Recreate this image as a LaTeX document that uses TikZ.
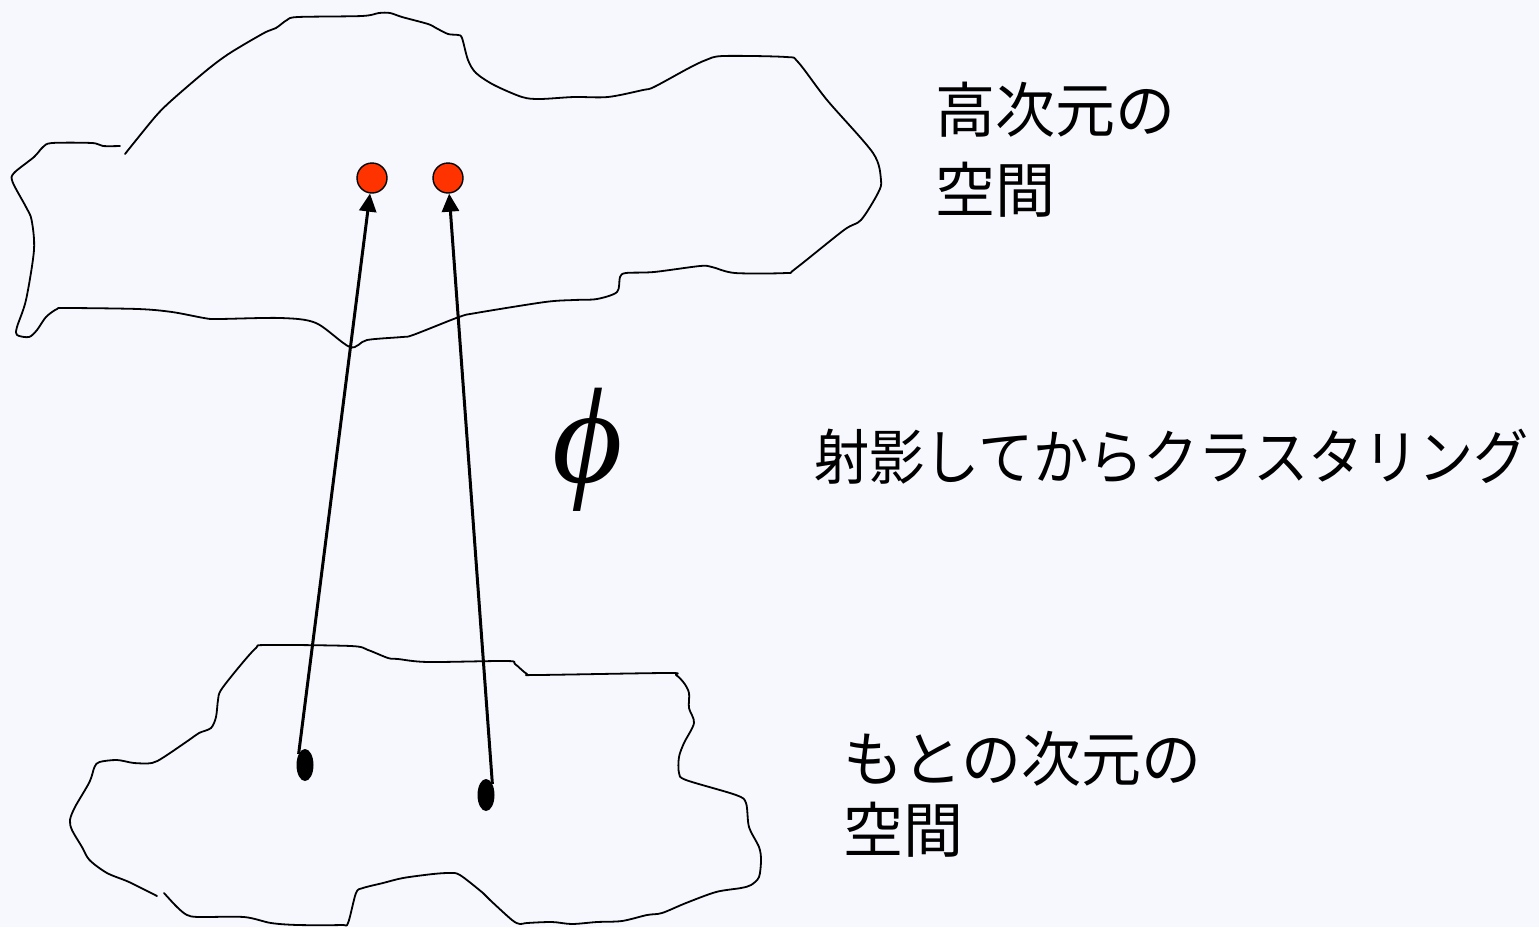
\documentclass[tikz,border=0pt]{standalone}
\usepackage{fontspec}
\usepackage{graphicx}
\newfontfamily\jpfont{Noto Sans CJK JP}
\newfontfamily\phifont{Liberation Serif}
\usetikzlibrary{arrows.meta,shapes.geometric}
\definecolor{bgcol}{RGB}{247,248,254}
\definecolor{dotred}{RGB}{255,51,0}
\tikzset{
  outline/.style={line width=1.8pt, line join=round, line cap=round},
  reddot/.style={circle, draw=black, line width=1.4pt, fill=dotred, minimum size=30pt, inner sep=0pt},
  blackdot/.style={ellipse, fill=black, minimum width=17pt, minimum height=32pt, inner sep=0pt},
  maparrow/.style={line width=3pt, -{Triangle[length=18pt,width=17pt]}},
  jplabel/.style={anchor=base west, inner sep=0pt, font=\jpfont\fontsize{60}{70}\selectfont}
}
\begin{document}
\begin{tikzpicture}[x=1pt,y=-1pt]
\fill[bgcol] (0,0) rectangle (1539,927);
\useasboundingbox (0,0) rectangle (1539,927);

% upper blob (high-dimensional space)
\draw[outline] plot[smooth, tension=0.5] coordinates {
(120,146) (103,146) (92,143) (52,143) (43,147) (34,157) (14,173) (12.6,182) (26,207) (31.6,220) (34,250) (26,300) (17,327) (17,335) (29,337) (37,330) (46,317) (57,309) (66,308) (138,309) (172,312) (204,318) (218,319) (281,318) (316,323) (350,347) (367,340) (402,337) (413,335) (459,317) (476,313) (545,302) (574,300) (597,299) (617,292) (620,277) (626,273) (654,272) (700,266) (712,267) (735,273) (786,273) (795,269) (844,230) (861,220) (878,193) (881,180) (873,153) (827,100) (798,62) (786,57) (723,56) (706,60) (689,68) (654,87) (643,90) (608,97) (574,97) (540,99) (522,97) (494,85) (476,73) (468,60) (462,38) (458,35) (448,34) (436,28) (428,24) (402,17) (390,13) (379,13) (362,16) (298,17) (287,20) (276,28) (264,33) (230,53) (207,70) (172,100) (155,117) (125,154)};

% lower blob (original space)
\draw[outline] plot[smooth, tension=0.5] coordinates {
(157,896) (129,882) (107,873) (89.5,860) (82,847) (72,830) (70,820) (75,807) (89.5,782) (94.5,767) (99.5,762) (117,760) (134,763) (152,763) (164,757) (189,740) (199,733) (211,728) (216,717) (218,700) (221,690) (239,667) (256,648) (266,645) (351,646) (368,650) (388,658) (398,659) (428,662) (507,661) (515,664) (527,674) (537,675) (667,673) (676,675) (684,683) (689,693) (689,708) (694,723) (684,743) (679,757) (679,773) (686,780) (736,795) (746,803) (749,827) (759,847) (761,860) (759,877) (751,885) (741,888) (716,892) (686,903) (662,913) (647,915) (622,921) (597,922) (572,924) (552,922) (527,923) (520,924) (512,920) (490,900) (483,893) (460,875) (450,873) (433,874) (403,878) (383,883) (363,888) (356,893) (348,923) (341,925) (298,925) (271,923) (244,917) (199,917) (187,915) (177,907) (164,893)};

% points
\node[reddot] (r1) at (372,178) {};
\node[reddot] (r2) at (448,178) {};
\node[blackdot] (b1) at (305,765) {};
\node[blackdot] (b2) at (486,795) {};

% mapping arrows
\draw[maparrow] (b1.120) -- (r1);
\draw[maparrow] (b2.60) -- (r2);

% phi
\node[inner sep=0pt] (phi) at (588,450) {\phifont\itshape\fontsize{136}{150}\selectfont ϕ};

% labels
\node[jplabel] (hi1) at (935,132) {高次元の};
\node[jplabel] (hi2) at (935,212) {空間};
\node[jplabel] (proj) at (814,479) {\scalebox{0.92}[1]{射影してからクラスタリング}};
\node[jplabel] (lo1) at (843,781) {もとの次元の};
\node[jplabel] (lo2) at (843,852) {空間};
\end{tikzpicture}
\end{document}
